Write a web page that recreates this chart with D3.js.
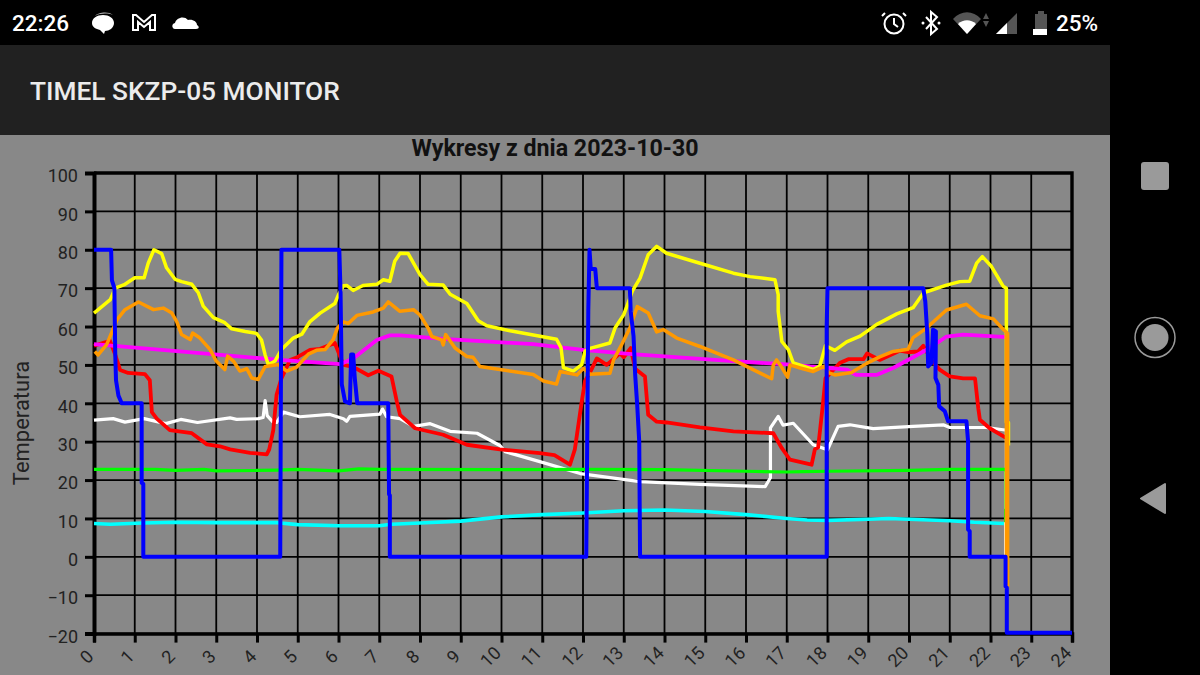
<!DOCTYPE html>
<html><head><meta charset="utf-8">
<script src="https://cdn.jsdelivr.net/npm/d3@7/dist/d3.min.js"></script>
<style>html,body{margin:0;padding:0;background:#000;overflow:hidden}svg{display:block}text{font-family:Roboto,sans-serif}</style>
</head><body><svg id="c" width="1200" height="675"></svg>
<script>
const chartTitle = "Wykresy z dnia 2023-10-30";
const appTitle = "TIMEL SKZP-05 MONITOR";
const yAxisLabel = "Temperatura";
const xTickValues = d3.range(0, 25);
const yTickValues = d3.range(-20, 101, 10);

const yellow = [[0,63.5],[0.4,67],[0.52,70],[0.76,71],[1,72.7],[1.23,72.7],[1.33,76.5],[1.47,80],[1.66,79],[1.78,75.3],[1.99,72.3],[2.15,71.7],[2.4,71],[2.56,68.8],[2.68,65.3],[2.93,62.3],[3.21,61],[3.38,59.4],[3.71,58.7],[3.99,58.2],[4.11,56.5],[4.2,52.6],[4.28,50],[4.44,51],[4.6,54],[4.89,57],[5.1,58],[5.3,61.3],[5.55,63.5],[5.91,66],[6,68.3],[6.12,70.6],[6.2,70.7],[6.36,69.4],[6.6,70.7],[6.94,71],[7.1,72.2],[7.26,71.8],[7.38,77],[7.51,79.1],[7.71,79],[8,73.5],[8.2,71],[8.57,70.8],[8.74,68.4],[9.15,66],[9.43,61.5],[9.64,60.2],[10.21,58.9],[11.35,56.7],[11.46,54.5],[11.52,49.3],[11.76,48.4],[11.97,50.1],[12.05,53.6],[12.17,54.3],[12.66,55.7],[12.79,59.7],[13,63.1],[13.11,66.2],[13.21,69.2],[13.4,72.6],[13.6,78.7],[13.81,80.9],[14.05,79.1],[14.87,76.5],[15.69,73.9],[16.1,73],[16.71,72.2],[16.79,68.3],[16.79,64],[16.88,56.1],[17.04,54],[17.16,50.5],[17.65,48.8],[17.81,49.7],[17.95,55],[18.18,53.8],[18.47,56],[18.8,57.5],[19.2,60.5],[19.7,63.3],[20.1,64.9],[20.35,68.7],[20.47,69.2],[20.92,70.8],[21.25,71.7],[21.49,71.8],[21.66,76.5],[21.8,78.2],[22.02,75.7],[22.31,70.5],[22.39,70],[22.39,35],[22.44,35],[22.44,29]];
const orange = [[0.02,53.5],[0.1,52.6],[0.31,55.3],[0.43,58.3],[0.56,61.7],[0.76,64.4],[1.09,66.4],[1.46,64.4],[1.7,64.8],[1.91,63.5],[2.03,61.3],[2.15,57.9],[2.36,56.6],[2.42,58.3],[2.6,57],[2.85,54],[3,51],[3.21,48.8],[3.28,52.3],[3.42,51],[3.58,48.4],[3.75,49],[3.87,46.6],[4.03,46.2],[4.2,49.6],[4.53,50.1],[4.73,48.4],[4.97,49.4],[5.26,52.8],[5.46,53.8],[5.67,54],[5.87,56.6],[5.97,59.6],[6.12,61.2],[6.24,60.8],[6.45,62.9],[6.85,63.8],[7.1,64.8],[7.22,66.4],[7.5,64],[7.84,64.4],[8,63],[8.2,59.6],[8.29,57.4],[8.53,56.5],[8.57,55.2],[8.63,57.9],[8.86,54.4],[9.15,52.2],[9.3,52],[9.47,49.6],[9.96,48.8],[10.78,47.5],[11.03,45.8],[11.35,45],[11.44,48.3],[11.85,47.4],[12.01,49.1],[12.17,47.6],[12.66,47.8],[12.75,51.3],[12.95,55.3],[13.15,59.6],[13.33,65.2],[13.6,63.5],[13.81,58.6],[13.97,59.2],[14.3,57],[14.87,54.8],[15.69,51.3],[16.63,46.4],[16.67,50],[16.75,51.3],[16.84,50],[17.02,46.8],[17.08,50],[17.33,49.2],[17.65,48.3],[17.93,49.7],[18.02,48],[18.18,47.4],[18.59,48],[18.96,50.4],[19.28,52.1],[19.61,53.5],[19.98,54.1],[20.1,57.1],[20.43,59.6],[20.92,64.3],[21.41,65.8],[21.74,62.8],[22.07,62],[22.31,59.3],[22.39,58.5],[22.39,-7.7],[22.42,-7.7],[22.42,58.5]];
const magenta = [[0,55.4],[4.56,51.3],[6.04,50.2],[6.36,51.7],[6.94,56.5],[7.26,57.7],[7.51,57.7],[8.57,56.8],[10.78,55.4],[12,53.9],[13.2,52.8],[15.69,51],[17.2,50],[17.57,49.6],[18.06,49.2],[18.47,48.8],[18.7,47.4],[19.2,47.4],[19.61,49.2],[20.1,52],[20.51,54.4],[20.92,57.4],[21.33,57.9],[22.31,57.3],[22.38,57.3]];
const red = [[0,55],[0.39,56.3],[0.52,52.7],[0.64,48.7],[0.84,47.9],[1.25,47.6],[1.37,46],[1.42,37.7],[1.54,36],[1.86,33],[2.4,32.2],[2.77,29.3],[3.09,28.8],[3.34,28],[3.83,27.1],[4.24,26.7],[4.3,28],[4.4,33],[4.48,42.2],[4.6,46.5],[4.81,51.3],[4.97,51.9],[5.3,53.9],[5.55,54.2],[5.91,55.7],[6.12,50],[6.36,49.5],[6.73,47.3],[6.98,48.5],[7.3,47],[7.43,40.5],[7.51,37],[7.88,33.5],[8.57,31.8],[9.15,29.2],[9.96,28],[10.94,27],[11.3,26.5],[11.68,24],[11.8,28],[11.97,40.5],[12.05,45.8],[12.17,48],[12.34,51.7],[12.58,50],[12.91,53],[13,52],[13.17,54.4],[13.28,49],[13.52,47],[13.6,37],[13.81,35.2],[14.05,35],[14.87,33.7],[15.69,32.7],[16.67,32.2],[16.88,28.3],[17.08,25.3],[17.61,24],[17.69,28],[17.77,28.5],[17.89,40],[17.95,46.5],[18.3,50.5],[18.51,51.5],[18.88,51.5],[18.97,53],[19.28,51.3],[19.77,53.7],[19.98,53.3],[20.22,53.5],[20.35,55],[20.55,51.3],[20.76,48.7],[21,47],[21.33,46.5],[21.62,46.5],[21.7,38.7],[21.74,35.7],[21.98,33.5],[22.33,31.3],[22.38,31]];
const white = [[0,35.6],[0.47,36],[0.76,35.1],[1.23,36],[1.76,34.7],[2.13,35.8],[2.54,35],[3.34,36.2],[3.5,35.8],[4.03,36],[4.15,36.3],[4.2,40.7],[4.25,36.8],[4.4,35],[4.48,35],[4.65,37.7],[5.05,36.5],[5.79,37.1],[6.12,36],[6.2,35.3],[6.28,36.6],[7.02,37.2],[7.08,38.5],[7.18,36.5],[7.51,36],[7.84,34],[8.25,34.7],[8.74,32.7],[9.4,32.2],[9.96,29],[10.09,27.4],[10.94,24.8],[11.93,21.7],[13.4,19.6],[14.87,18.9],[16.47,18.3],[16.6,20.6],[16.6,33.6],[16.79,36.6],[16.91,34.3],[17.16,34.8],[17.65,29.2],[18,27.9],[18.26,34],[18.55,34.4],[19.12,33.4],[20.1,34],[20.84,34.4],[21,33.7],[21.9,33.7],[22.31,33.1],[22.39,33],[22.39,22],[22.37,22],[22.37,0]];
const green = [[0,22.8],[1.5,22.8],[2,22.5],[2.7,22.8],[3,22.4],[4,22.5],[4.5,22.6],[5,22.8],[6,22.4],[6.5,22.9],[7,22.8],[10,22.7],[12,22.8],[14,22.7],[16,22.3],[17,22.1],[17.4,22.2],[18,22.3],[20,22.5],[21,22.8],[22.33,22.8],[22.38,22.8],[22.38,12.3],[22.37,12.3],[22.37,9]];
const cyan = [[0,8.7],[0.4,8.5],[1.2,8.8],[2,9],[3,8.9],[4.5,8.9],[5,8.4],[6,8.1],[7,8.1],[7.3,8.5],[8,8.8],[9,9.3],[10,10.4],[11,11],[12,11.4],[13,12],[14,12.2],[15,11.8],[16,11],[17,10],[17.5,9.6],[18,9.5],[19,9.8],[19.5,10],[20.5,9.6],[21,9.4],[21.6,9],[22.33,8.7]];
const blue = [[0,80],[0.42,80],[0.44,72],[0.5,70],[0.52,53.5],[0.54,46],[0.6,42],[0.68,40],[1.17,40],[1.17,19.3],[1.21,19],[1.21,0],[4.57,0],[4.6,80],[6.02,80],[6.05,69],[6.07,53.5],[6.08,45],[6.16,40.5],[6.28,40],[6.31,52.7],[6.36,52.7],[6.4,46.5],[6.46,40],[7.22,40],[7.24,16.3],[7.26,16],[7.26,0],[12.08,0],[12.13,64.4],[12.16,80],[12.19,75],[12.3,75],[12.34,70],[13.15,70],[13.17,64],[13.24,57.5],[13.28,47.5],[13.33,39.6],[13.38,30],[13.4,0],[17.98,0],[17.98,60],[18,70],[20.35,70],[20.4,66.5],[20.45,57.9],[20.47,49.6],[20.55,50.5],[20.59,59.2],[20.66,58.7],[20.65,46.6],[20.72,44.8],[20.74,39.2],[20.88,37.9],[20.96,35.3],[21.41,35.3],[21.45,30],[21.45,7.1],[21.49,6.7],[21.49,0],[22.37,0],[22.37,-7.7],[22.4,-8],[22.4,-19.8],[24,-19.8]];

const seriesOrder = [[white,"#ffffff",3.2],[green,"#00ff00",3.2],[cyan,"#00ffff",3.6],[red,"#ff0000",3.8],[magenta,"#ff00ff",3.8],[yellow,"#ffff00",3.5],[orange,"#ff9900",3.5],[blue,"#0000ff",4]];

const svg = d3.select("#c");
// page chrome
svg.append("rect").attr("width",1200).attr("height",675).attr("fill","#000");
svg.append("rect").attr("x",0).attr("y",135).attr("width",1110).attr("height",540).attr("fill","#888888");
svg.append("rect").attr("x",0).attr("y",45).attr("width",1110).attr("height",90).attr("fill","#212121");
svg.append("text").text(appTitle).attr("x",30).attr("y",100).attr("fill","#ececec").attr("font-size",26.3).attr("font-weight",500);
svg.append("text").text("22:26").attr("x",12).attr("y",31).attr("fill","#fff").attr("font-size",22.5).attr("font-weight",500);
svg.append("text").text("25%").attr("x",1056).attr("y",31).attr("fill","#fff").attr("font-size",22.5).attr("font-weight",500);

// status bar icons
const ic = svg.append("g");
ic.append("path").attr("d","M95 16c3-4 14-5 18-1-5-2-13-2-18 1z").attr("fill","#bbb");
ic.append("path").attr("d","M92 23c0-5 5-8 11-8s11 3 11 8-5 8-9 8l-1 3-4-4c-4-1-8-3-8-7z").attr("fill","#fff");
ic.append("path").attr("d","M133 30V15h3l8 7 8-7h3v15h-5v-8l-6 5-6-5v8z").attr("fill","none").attr("stroke","#fff").attr("stroke-width",2);
ic.append("path").attr("d","M175 29c-3 0-4-5 0-6 1-5 9-8 13-3 5-1 9 2 9 5 2 1 3 4-1 4z").attr("fill","#fff");
ic.append("circle").attr("cx",894).attr("cy",24).attr("r",9.5).attr("fill","none").attr("stroke","#fff").attr("stroke-width",2);
ic.append("path").attr("d","M894 18v6l4 3M885 13l-3 3M903 13l3 3").attr("fill","none").attr("stroke","#fff").attr("stroke-width",2);
ic.append("path").attr("d","M926 17l11 12-6 5V12l6 5-11 12").attr("fill","none").attr("stroke","#fff").attr("stroke-width",2);
ic.append("circle").attr("cx",923).attr("cy",23).attr("r",1.5).attr("fill","#fff");
ic.append("circle").attr("cx",939).attr("cy",23).attr("r",1.5).attr("fill","#fff");
ic.append("path").attr("d","M953 19c8-9 20-9 28 0l-14 15z").attr("fill","#555");
ic.append("path").attr("d","M958 24c5-5 13-5 18 0l-9 10z").attr("fill","#fff");
ic.append("path").attr("d","M983 19l3-6 3 6zM983 21l3 6 3-6z").attr("fill","#555");
ic.append("path").attr("d","M996 34l21-21v21z").attr("fill","#555");
ic.append("path").attr("d","M996 34l11-11v11z").attr("fill","#fff");
ic.append("path").attr("d","M1035 14h3v-3h6v3h3v15h-12z").attr("fill","#555");
ic.append("rect").attr("x",1033).attr("y",29).attr("width",14).attr("height",6).attr("fill","#fff");

// navigation bar
const nav = svg.append("g");
nav.append("rect").attr("x",1141).attr("y",162).attr("width",28).attr("height",28).attr("rx",3).attr("fill","#9a9a9a");
nav.append("circle").attr("cx",1155).attr("cy",337.5).attr("r",20).attr("fill","none").attr("stroke","#9a9a9a").attr("stroke-width",1.5);
nav.append("circle").attr("cx",1155).attr("cy",337.5).attr("r",13.5).attr("fill","#9a9a9a");
nav.append("path").attr("d","M1141 498.5L1165 484V513Z").attr("fill","#9a9a9a").attr("stroke","#9a9a9a").attr("stroke-width",2).attr("stroke-linejoin","round");

// chart
const x = d3.scaleLinear().domain([0,24]).range([94,1072]);
const y = d3.scaleLinear().domain([-20,100]).range([633.6,173]);

svg.append("text").text(chartTitle).attr("x",555).attr("y",155.5).attr("text-anchor","middle").attr("fill","#111").attr("font-size",23.2).attr("font-weight",700);
svg.append("text").text(yAxisLabel).attr("transform","translate(29,423) rotate(-90)").attr("text-anchor","middle").attr("fill","#222").attr("font-size",22);

const grid = svg.append("g");
grid.selectAll("line.v").data(xTickValues).join("line").attr("class","v")
  .attr("x1",d=>x(d)).attr("x2",d=>x(d)).attr("y1",y(100)).attr("y2",y(-20)).attr("stroke","#000").attr("stroke-width",1.8);
grid.selectAll("line.h").data(yTickValues).join("line").attr("class","h")
  .attr("x1",x(0)).attr("x2",x(24)).attr("y1",d=>y(d)).attr("y2",d=>y(d)).attr("stroke","#000").attr("stroke-width",1.8);

const gx = svg.append("g").attr("transform",`translate(0,${y(-20)})`)
  .call(d3.axisBottom(x).tickValues(xTickValues).tickSize(9).tickFormat(d3.format("d")));
const gy = svg.append("g").attr("transform",`translate(${x(0)},0)`)
  .call(d3.axisLeft(y).tickValues(yTickValues).tickSize(9).tickFormat(d3.format("d")));
gx.select(".domain").attr("stroke","#000").attr("stroke-width",3.5);
gy.select(".domain").attr("stroke","#000").attr("stroke-width",4);
gx.selectAll(".tick line").attr("stroke","#000").attr("stroke-width",3);
gy.selectAll(".tick line").attr("stroke","#000").attr("stroke-width",3);
gy.selectAll(".tick text").attr("x",-16).attr("y",3).attr("font-size",18).attr("font-family","Roboto").attr("fill","#222");
gx.selectAll(".tick text").each(function(d){
  const off = String(d).length===1 ? 8 : 11.7;
  d3.select(this).attr("y",0).attr("dy",0).attr("text-anchor","middle").attr("font-size",18).attr("font-family","Roboto").attr("fill","#222")
    .attr("dominant-baseline","central")
    .attr("transform",`translate(${-off},23) rotate(-45)`);
});
svg.append("path").attr("d",`M${x(0)} ${y(100)}H${x(24)}V${y(-20)}`).attr("fill","none").attr("stroke","#000").attr("stroke-width",3.4);

const line = d3.line().x(d=>x(d[0])).y(d=>y(d[1]));
svg.append("g").attr("fill","none").attr("stroke-linejoin","round").attr("stroke-linecap","butt")
  .selectAll("path").data(seriesOrder).join("path")
  .attr("d",d=>line(d[0])).attr("stroke",d=>d[1]).attr("stroke-width",d=>d[2]);
</script></body></html>
